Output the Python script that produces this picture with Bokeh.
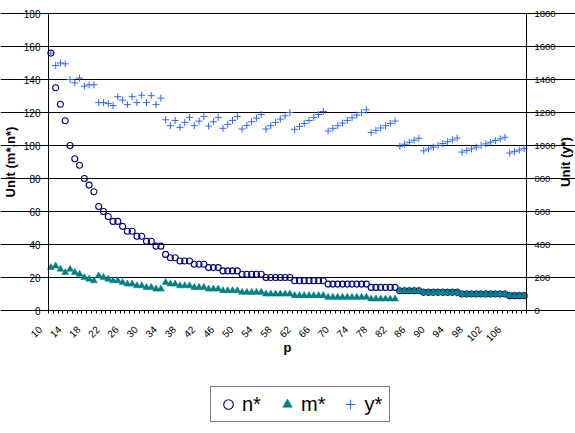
import math
from bokeh.plotting import figure
from bokeh.models import Range1d, LinearAxis, FixedTicker, Legend, LegendItem
from bokeh.core.properties import value
from bokeh.embed import file_html
from bokeh.resources import INLINE

# category axis p
p_vals = list(range(10, 110))
x_tick_labels = [10, 14, 18, 22, 26, 30, 34, 38, 42, 46, 50, 54, 58, 62, 66, 70,
                 74, 78, 82, 86, 90, 94, 98, 102, 106]

n_star = [156, 135, 125, 115, 100, 92, 88, 80, 76, 72,
          63, 60, 57, 54, 54, 51, 48, 48, 45, 45,
          42, 42, 39, 39, 34, 32, 32, 30, 30, 30,
          28, 28, 28, 26, 26, 26, 24, 24, 24, 24,
          22, 22, 22, 22, 22, 20, 20, 20, 20, 20,
          20, 18, 18, 18, 18, 18, 18, 18, 16, 16,
          16, 16, 16, 16, 16, 16, 16, 14, 14, 14,
          14, 14, 14, 12, 12, 12, 12, 12, 11, 11,
          11, 11, 11, 11, 11, 11, 10, 10, 10, 10,
          10, 10, 10, 10, 10, 10, 9, 9, 9, 9]

m_star = [26, 27, 25, 23, 25, 23, 22, 20, 19, 18,
          21, 20, 19, 18, 18, 17, 16, 16, 15, 15,
          14, 14, 13, 13, 17, 16, 16, 15, 15, 15,
          14, 14, 14, 13, 13, 13, 12, 12, 12, 12,
          11, 11, 11, 11, 11, 10, 10, 10, 10, 10,
          10, 9, 9, 9, 9, 9, 9, 9, 8, 8,
          8, 8, 8, 8, 8, 8, 8, 7, 7, 7,
          7, 7, 7, 12, 12, 12, 12, 12, 11, 11,
          11, 11, 11, 11, 11, 11, 10, 10, 10, 10,
          10, 10, 10, 10, 10, 10, 9, 9, 9, 9]

y_star = [1560, 1485, 1500, 1495, 1400, 1380, 1408, 1360, 1368, 1368,
          1260, 1260, 1254, 1242, 1296, 1275, 1248, 1296, 1260, 1305,
          1260, 1302, 1248, 1287, 1156, 1120, 1152, 1110, 1140, 1170,
          1120, 1148, 1176, 1118, 1144, 1170, 1104, 1128, 1152, 1176,
          1100, 1122, 1144, 1166, 1188, 1100, 1120, 1140, 1160, 1180,
          1200, 1098, 1116, 1134, 1152, 1170, 1188, 1206, 1088, 1104,
          1120, 1136, 1152, 1168, 1184, 1200, 1216, 1078, 1092, 1106,
          1120, 1134, 1148, 996, 1008, 1020, 1032, 1044, 968, 979,
          990, 1001, 1012, 1023, 1034, 1045, 960, 970, 980, 990,
          1000, 1010, 1020, 1030, 1040, 1050, 954, 963, 972, 981]

left_ticks = [0, 20, 40, 60, 80, 100, 120, 140, 160, 180]
right_ticks = [0, 200, 400, 600, 800, 1000, 1200, 1400, 1600, 1800]

FONT = "Liberation Sans"

# ---- layout (pixels) ----
W, H = 575, 433
AREA_L, AREA_T = 48, 13            # top-left corner of the data area
AREA_W, AREA_H = 478, 297          # data area size
LABEL_SHIFT = 2.25                 # rotated labels sit left of their category

x0 = p_vals[0] - 0.5
x1 = p_vals[-1] + 0.5
px_x = AREA_W / (x1 - x0)
px_y = AREA_H / (left_ticks[-1] - left_ticks[0])
ratio = right_ticks[-1] / left_ticks[-1]

xr_start = x0 - AREA_L / px_x
xr_end = x0 + (W - AREA_L) / px_x
yr_end = left_ticks[-1] + AREA_T / px_y
yr_start = left_ticks[0] - (H - AREA_T - AREA_H) / px_y

p = figure(width=W, height=H, output_backend="svg", toolbar_location=None,
           x_range=Range1d(xr_start, xr_end), y_range=Range1d(yr_start, yr_end),
           min_border_left=0, min_border_right=0, min_border_top=0,
           min_border_bottom=0)
p.extra_y_ranges = {"y2": Range1d(yr_start * ratio, yr_end * ratio)}
p.outline_line_color = None
p.background_fill_color = "white"
p.border_fill_color = "white"

# grid
p.xgrid.visible = False
p.ygrid.ticker = FixedTicker(ticks=left_ticks)
p.ygrid.bounds = (x0, x1)
p.ygrid.grid_line_color = "#000000"
p.ygrid.grid_line_width = 1

# x axis: line + category boundary ticks
xa = p.xaxis[0]
xa.fixed_location = 0
xa.bounds = (x0, x1)
xa.ticker = FixedTicker(ticks=[], minor_ticks=[v - 0.5 for v in p_vals] + [x1])
xa.major_tick_out = 0
xa.major_tick_in = 0
xa.minor_tick_out = 3
xa.minor_tick_in = 0
xa.minor_tick_line_color = "#000000"
xa.axis_line_color = "#000000"
xa.major_label_standoff = 0

# x axis: rotated category labels
label_pos = [v - LABEL_SHIFT for v in x_tick_labels]
xl = LinearAxis(fixed_location=0, bounds=(x0 - 1.9, x1 - 2.1),
                ticker=FixedTicker(ticks=label_pos))
xl.major_label_overrides = {pos: str(v) for pos, v in zip(label_pos, x_tick_labels)}
xl.axis_line_color = None
xl.major_tick_line_color = None
xl.minor_tick_line_color = None
xl.major_tick_out = 0
xl.major_tick_in = 0
xl.minor_tick_out = 0
xl.minor_tick_in = 0
xl.major_label_orientation = math.pi / 4
xl.major_label_standoff = 17
xl.major_label_text_font = FONT
xl.major_label_text_font_size = "10px"
xl.major_label_text_color = "#000000"
p.add_layout(xl, "below")

# left axis
ya = p.yaxis[0]
ya.fixed_location = x0
ya.bounds = (left_ticks[0], left_ticks[-1])
ya.ticker = FixedTicker(ticks=left_ticks)
ya.minor_tick_line_color = None
ya.major_tick_out = 3
ya.major_tick_in = 0
ya.major_label_standoff = 5
ya.axis_label = "Unit (m*,n*)"
ya.axis_label_standoff = 3
ya.axis_line_color = "#000000"
ya.major_tick_line_color = "#000000"
ya.major_label_text_font = FONT
ya.major_label_text_font_size = "10px"
ya.major_label_text_color = "#000000"
ya.axis_label_text_font = FONT
ya.axis_label_text_font_size = "13px"
ya.axis_label_text_font_style = "bold"
ya.axis_label_text_color = "#000000"

# right axis
ra = LinearAxis(y_range_name="y2", fixed_location=x1,
                bounds=(right_ticks[0], right_ticks[-1]),
                ticker=FixedTicker(ticks=right_ticks))
ra.minor_tick_line_color = None
ra.major_tick_out = 3
ra.major_tick_in = 0
ra.major_label_standoff = 5
ra.axis_line_color = "#000000"
ra.major_tick_line_color = "#000000"
ra.major_label_text_font = FONT
ra.major_label_text_font_size = "9.5px"
ra.major_label_text_color = "#000000"
p.add_layout(ra, "right")

# series
r_n = p.scatter(p_vals, n_star, marker="circle", size=6, fill_color=None,
                line_color="#000080", line_width=1.1)
r_m = p.scatter(p_vals, m_star, marker="triangle", size=7, fill_color="#008080",
                line_color="#008080", line_width=0.5)
r_y = p.scatter(p_vals, y_star, marker="cross", size=7, line_color="#3366FF",
                line_width=1, y_range_name="y2")

# axis titles drawn as text
p.text(x=[(x0 + x1) / 2], y=[-37 / px_y], text=["p"], text_align="center",
       text_baseline="middle", text_font=value(FONT), text_font_size="13px",
       text_font_style="bold", text_color="#000000")
p.text(x=[x1 + 39 / px_x], y=[(left_ticks[0] + left_ticks[-1]) / 2],
       text=["Unit (y*)"], angle=math.pi / 2, text_align="center",
       text_baseline="middle", text_font=value(FONT), text_font_size="13px",
       text_font_style="bold", text_color="#000000")

legend = Legend(items=[LegendItem(label="n*", renderers=[r_n]),
                       LegendItem(label="m*", renderers=[r_m]),
                       LegendItem(label="y*", renderers=[r_y])],
                location=(210, 11), orientation="horizontal")
legend.border_line_color = "#000000"
legend.border_line_width = 1
legend.background_fill_color = "white"
legend.background_fill_alpha = 1
legend.label_text_font = FONT
legend.label_text_font_size = "20px"
legend.label_text_color = "#000000"
legend.glyph_width = 24
legend.glyph_height = 24
legend.label_standoff = 2
legend.spacing = 13
legend.padding = 5
legend.margin = 0
p.add_layout(legend)

open("out.html", "w").write(file_html(p, INLINE))
